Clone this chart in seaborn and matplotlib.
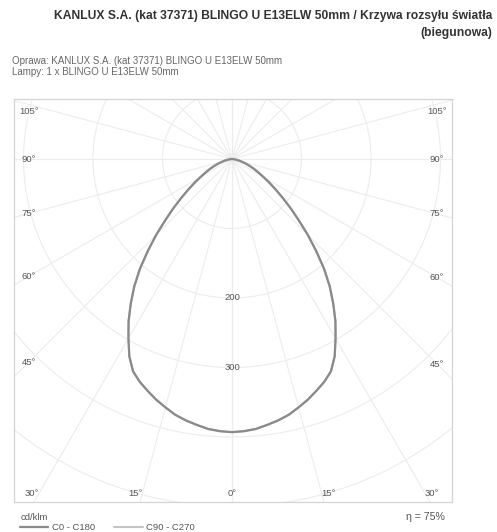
import numpy as np
import pandas as pd
import matplotlib
matplotlib.use("Agg")
import matplotlib.pyplot as plt
import seaborn as sns

# ---------------- data ----------------
gamma_deg = [0, 2.5, 5, 7.5, 10, 12.5, 15, 17.5, 20, 22.5, 25, 27.5, 30, 32.5, 35,
             37.5, 40, 42.5, 45, 47.5, 50, 52.5, 55, 57.5, 60, 62.5, 65, 67.5, 70,
             72.5, 75, 77.5, 80, 82.5, 85, 87.5, 90]
c0_c180 = [393, 392, 390, 386, 382, 377, 370, 363, 355, 347, 337, 320, 298, 277, 254,
           231, 206, 179, 154, 130, 110, 92, 77, 64, 53, 44, 37, 30, 24,
           19, 14, 10, 7, 4, 2, 1, 0]
c90_c270 = [393, 392, 390, 386, 382, 377, 370, 363, 355, 347, 337, 320, 298, 277, 254,
            231, 206, 179, 154, 130, 110, 92, 77, 64, 53, 44, 37, 30, 24,
            19, 14, 10, 7, 4, 2, 1, 0]
ring_values = [100, 200, 300, 400, 500]
ring_labels = [200, 300]
side_angle_labels = [105, 90, 75, 60, 45]
bottom_angle_labels = [30, 15, 0]
radial_angles = list(range(0, 181, 15))

title_line1 = "KANLUX S.A. (kat 37371) BLINGO U E13ELW 50mm / Krzywa rozsyłu światła"
title_line2 = "(biegunowa)"
sub_line1 = "Oprawa: KANLUX S.A. (kat 37371) BLINGO U E13ELW 50mm"
sub_line2 = "Lampy: 1 x BLINGO U E13ELW 50mm"
unit_label = "cd/klm"
series_names = ["C0 - C180", "C90 - C270"]
efficiency_text = "η = 75%"

# ---------------- style ----------------
sns.set_theme(style="white")
plt.rcParams["font.family"] = ["Liberation Sans", "DejaVu Sans"]

W, H = 497, 532
fig = plt.figure(figsize=(W / 100, H / 100), dpi=100)
fig.patch.set_facecolor("white")

# frame in pixels
fl, fr, ft, fb = 14, 452, 99, 502
ox, oy = 232, 159          # origin pixel
s = 0.695                  # px per cd/klm

ax = fig.add_axes([fl / W, (H - fb) / H, (fr - fl) / W, (fb - ft) / H])
xmin, xmax = -(ox - fl) / s, (fr - ox) / s
ymin, ymax = -(fb - oy) / s, (oy - ft) / s
ax.set_xlim(xmin, xmax)
ax.set_ylim(ymin, ymax)
ax.set_xticks([])
ax.set_yticks([])
for sp in ax.spines.values():
    sp.set_color("#d4d4d4")
    sp.set_linewidth(0.9)

grid_c = "#ececec"
# rings
t = np.linspace(0, 2 * np.pi, 721)
for r in ring_values:
    ring = pd.DataFrame({"x": r * np.cos(t), "y": r * np.sin(t)})
    sns.lineplot(data=ring, x="x", y="y", sort=False, estimator=None,
                 color=grid_c, lw=0.8, ax=ax, zorder=1)
# radial lines
for a in radial_angles:
    for sgn in (-1, 1):
        rad = np.deg2rad(a)
        ln = pd.DataFrame({"x": [0, sgn * 1200 * np.sin(rad)],
                           "y": [0, -1200 * np.cos(rad)]})
        sns.lineplot(data=ln, x="x", y="y", sort=False, estimator=None,
                     color=grid_c, lw=0.8, ax=ax, zorder=1)

# curves
def curve_df(vals):
    g = np.deg2rad(np.array(gamma_deg, dtype=float))
    v = np.array(vals, dtype=float)
    gg = np.concatenate([-g[::-1], g[1:]])
    vv = np.concatenate([v[::-1], v[1:]])
    return pd.DataFrame({"x": vv * np.sin(gg), "y": -vv * np.cos(gg)})

sns.lineplot(data=curve_df(c90_c270), x="x", y="y", sort=False, estimator=None,
             color="#c4c4c4", lw=1.5, ax=ax, zorder=3, label=series_names[1])
sns.lineplot(data=curve_df(c0_c180), x="x", y="y", sort=False, estimator=None,
             color="#8a8a8a", lw=1.6, ax=ax, zorder=4, label=series_names[0])
for ln in ax.lines[-2:]:
    ln.set_solid_joinstyle("round")

lab_c = "#555555"
fs_small = 6.8
# ring labels on 0° axis
for r in ring_labels:
    ax.text(0, -r, str(r), ha="center", va="center", fontsize=fs_small,
            color=lab_c, zorder=5)

# angle labels along the frame
inset_x = 15 / s
for a in side_angle_labels:
    rad = np.deg2rad(a)
    for sgn in (-1, 1):
        xe = (xmin + inset_x) if sgn < 0 else (xmax - inset_x)
        y = -abs(xe) / np.tan(rad) if a != 90 else 0.0
        y = min(y, ymax - 12 / s)
        ax.text(xe, y, f"{a}°", ha="center", va="center", fontsize=fs_small,
                color=lab_c, zorder=5)
ye = ymin + 9 / s
for a in bottom_angle_labels:
    rad = np.deg2rad(a)
    for sgn in ((-1, 1) if a else (1,)):
        x = sgn * (abs(ye) * np.tan(rad) + (7 / s if a else 0))
        ax.text(x, ye, f"{a}°", ha="center", va="center", fontsize=fs_small,
                color=lab_c, zorder=5)

# legend
h, l = ax.get_legend_handles_labels()
order = [l.index(series_names[0]), l.index(series_names[1])]
leg = ax.legend([h[i] for i in order], [l[i] for i in order], title=unit_label,
                loc="upper left", bbox_to_anchor=(0.014, -0.028), ncol=2,
                frameon=False, fontsize=fs_small, title_fontsize=fs_small,
                handlelength=3.0, handletextpad=0.4, columnspacing=2.0,
                borderaxespad=0, borderpad=0.0, labelspacing=0.1, alignment="left")
for txt in leg.get_texts():
    txt.set_color(lab_c)
leg.get_title().set_color(lab_c)

fig.text(445 / W, 1 - 517 / H, efficiency_text, ha="right", va="center",
         fontsize=7.6, color=lab_c)

# titles
fig.text(492 / W, 1 - 16 / H, title_line1, ha="right", va="center",
         fontsize=8.7, fontweight="bold", color="#333333")
fig.text(492 / W, 1 - 33 / H, title_line2, ha="right", va="center",
         fontsize=8.7, fontweight="bold", color="#333333")
fig.text(12 / W, 1 - 61 / H, sub_line1, ha="left", va="center",
         fontsize=7, color="#666666")
fig.text(12 / W, 1 - 72 / H, sub_line2, ha="left", va="center",
         fontsize=7, color="#666666")

fig.savefig("out.png", dpi=100, facecolor="white")
